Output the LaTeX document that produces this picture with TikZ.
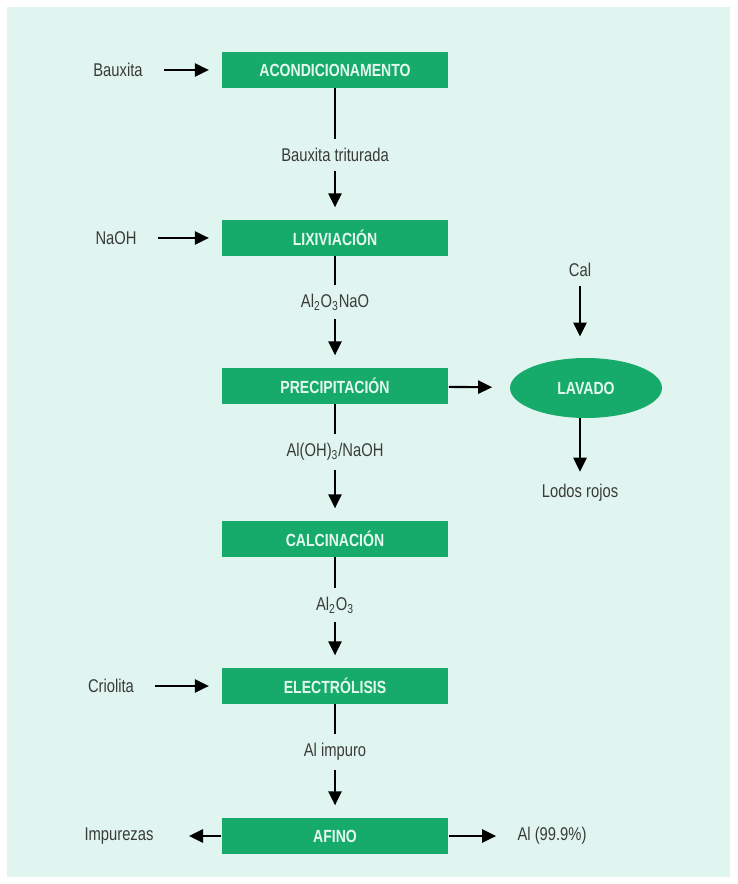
\documentclass[tikz,border=0pt]{standalone}
\usepackage{fontspec}
\setmainfont{Liberation Sans}[FakeStretch=0.8]
\usepackage{xcolor}
\usetikzlibrary{positioning}
\usetikzlibrary{arrows.meta}
\usetikzlibrary{shapes.geometric}
\definecolor{fondo}{HTML}{E0F5EF}
\definecolor{verde}{HTML}{17AB6B}
\definecolor{letra}{HTML}{3A3A3A}
\definecolor{blanco}{HTML}{E4F8EE}

\begin{document}
\begin{tikzpicture}[x=0.02cm,y=-0.02cm,
    every node/.style={font=\fontsize{10.5}{12}\selectfont},
    caja/.style={fill=verde,text=blanco,font=\fontsize{10}{12}\selectfont\bfseries,
        minimum width=4.54cm,minimum height=0.72cm,inner sep=0pt},
    etiqueta/.style={text=letra,inner sep=5pt},
    flecha/.style={-{Triangle[length=8pt,width=7.5pt]},line width=1.2pt,
        shorten <=7pt,shorten >=7pt},
    linea/.style={line width=0.8pt}]
    % fondo
    \useasboundingbox (0,0) rectangle (737,884);
    \fill[fondo] (7,7) rectangle (730,877);
    % cajas del proceso
    \node[caja] (acond) at (335,70) {ACONDICIONAMENTO};
    \node[caja] (lixiv) at (335,238) {LIXIVIACIÓN};
    \node[caja] (precip) at (335,386) {PRECIPITACIÓN};
    \node[caja] (calcin) at (335,539) {CALCINACIÓN};
    \node[caja] (electro) at (335,686) {ELECTRÓLISIS};
    \node[caja] (afino) at (335,836) {AFINO};
    \node[ellipse,fill=verde,text=blanco,font=\fontsize{10}{12}\selectfont\bfseries,
        minimum width=3.04cm,minimum height=1.2cm,inner sep=0pt] (lavado) at (586,388) {LAVADO};
    % productos intermedios
    \node[etiqueta] (triturada) at (335,155) {Bauxita triturada};
    \node[etiqueta] (aluminato) at (335,302) {Al\textsubscript{2}O\textsubscript{3}NaO};
    \node[etiqueta] (hidroxido) at (335,452) {Al(OH)\textsubscript{3}/NaOH};
    \node[etiqueta] (alumina) at (335,605) {Al\textsubscript{2}O\textsubscript{3}};
    \node[etiqueta] (impuro) at (335,752) {Al impuro};
    % entradas y salidas
    \node[etiqueta] (bauxita) at (118,70) {Bauxita};
    \node[etiqueta] (naoh) at (116,238) {NaOH};
    \node[etiqueta] (criolita) at (111,686) {Criolita};
    \node[etiqueta] (impurezas) at (119,836) {Impurezas};
    \node[etiqueta] (aluminio) at (552,836) {Al (99.9\%)};
    \node[etiqueta] (cal) at (580,270) {Cal};
    \node[etiqueta] (lodos) at (580,493) {Lodos rojos};
    % lineas verticales
    \foreach \a/\b in {acond/triturada,lixiv/aluminato,precip/hidroxido,calcin/alumina,electro/impuro}
        \draw[linea] (\a) -- (\b);
    \foreach \a/\b in {triturada/lixiv,aluminato/precip,hidroxido/calcin,alumina/electro,impuro/afino}
        \draw[flecha,shorten <=0pt] (\a) -- (\b);
    % flechas laterales
    \foreach \a/\b in {bauxita/acond,naoh/lixiv,criolita/electro}
        \draw[flecha] (\a) -- (\b);
    \draw[flecha,shorten <=0pt,shorten >=15pt] (afino) -- (impurezas);
    \draw[flecha,shorten <=0pt] (afino) -- (aluminio);
    \draw[flecha,shorten <=0pt,shorten >=10pt] (precip) -- (lavado);
    \draw[flecha,shorten <=0pt,shorten >=12pt] (cal) -- (cal |- lavado.north);
    \draw[flecha,shorten <=0pt,shorten >=2pt] (lodos |- lavado.south) -- (lodos);
\end{tikzpicture}
\end{document}
